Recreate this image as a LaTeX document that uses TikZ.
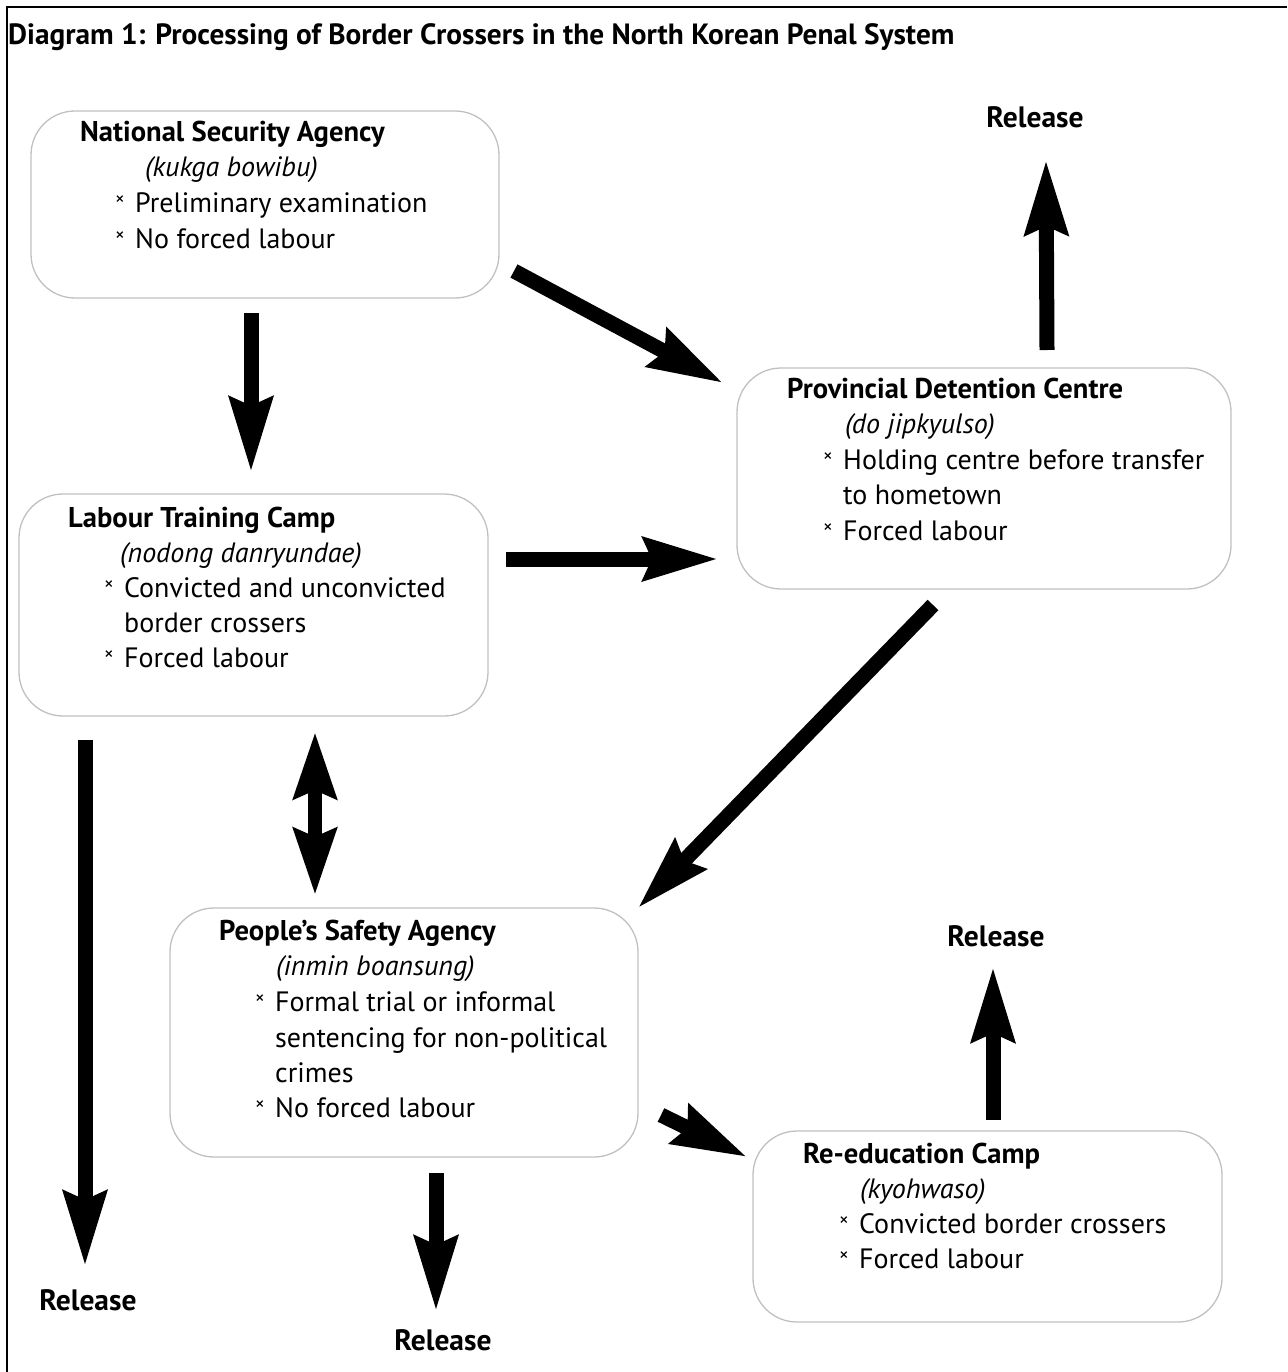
\documentclass[tikz,border=0pt]{standalone}
\usepackage{fontspec}
\setmainfont{PT Sans}
\usetikzlibrary{arrows.meta}
\definecolor{boxgray}{RGB}{192,192,192}
\newcommand\bul{\makebox[20pt][l]{\raisebox{7pt}{\fontsize{19}{19}\selectfont ×}}}
\begin{document}
\begin{tikzpicture}[x=1pt,y=-1pt,
  box/.style={draw=boxgray, line width=1.3pt, rounded corners=44pt, inner sep=0pt},
  txt/.style={anchor=base west, inner sep=0pt, font=\fontsize{28}{32}\selectfont},
  hd/.style={txt, font=\fontsize{28.6}{32}\selectfont\bfseries},
  it/.style={txt, font=\fontsize{28}{32}\selectfont\itshape},
  rel/.style={anchor=base, inner sep=0pt, font=\fontsize{29.5}{32}\selectfont\bfseries},
  blk/.style={line width=15pt, -{Stealth[length=74pt,width=42pt,inset=8pt]}},
  dbl/.style={line width=14pt, {Stealth[length=66pt,width=42pt,inset=8pt]}-{Stealth[length=66pt,width=42pt,inset=8pt]}}
]
\useasboundingbox (0,0) rectangle (1287,1372);
\draw[line width=2.2pt] (7,1372) -- (7,7) -- (1287,7);
\node[anchor=base west, inner sep=0pt, font=\fontsize{29.3}{32}\selectfont\bfseries] (title) at (8,45) {Diagram 1: Processing of Border Crossers in the North Korean Penal System};

% boxes
\node[box, minimum width=468pt, minimum height=187pt] (nsa) at (265,204.5) {};
\node[box, minimum width=469pt, minimum height=222pt] (ltc) at (253.5,605) {};
\node[box, minimum width=494pt, minimum height=221pt] (pdc) at (984,478.5) {};
\node[box, minimum width=468pt, minimum height=249pt] (psa) at (404,1032.5) {};
\node[box, minimum width=469pt, minimum height=191pt] (rec) at (987.5,1226.5) {};

% NSA text
\node[hd] (nsa1) at (80,142) {National Security Agency};
\node[it] (nsa2) at (145,177) {(kukga bowibu)};
\node[txt] (nsa3) at (115,213) {\bul Preliminary examination};
\node[txt] (nsa4) at (115,248) {\bul No forced labour};

% LTC text
\node[hd] (ltc1) at (68,527) {Labour Training Camp};
\node[it] (ltc2) at (120,562) {(nodong danryundae)};
\node[txt] (ltc3) at (104,597) {\bul Convicted and unconvicted};
\node[txt] (ltc4) at (124,632) {border crossers};
\node[txt] (ltc5) at (104,667) {\bul Forced labour};

% PDC text
\node[hd] (pdc1) at (787,398) {Provincial Detention Centre};
\node[it] (pdc2) at (845,433) {(do jipkyulso)};
\node[txt] (pdc3) at (823,469) {\bul Holding centre before transfer};
\node[txt] (pdc4) at (843,504) {to hometown};
\node[txt] (pdc5) at (823,540) {\bul Forced labour};

% PSA text
\node[hd] (psa1) at (219,940) {People’s Safety Agency};
\node[it] (psa2) at (276,975) {(inmin boansung)};
\node[txt] (psa3) at (255,1011) {\bul Formal trial or informal};
\node[txt] (psa4) at (275,1047) {sentencing for non-political};
\node[txt] (psa5) at (275,1082) {crimes};
\node[txt] (psa6) at (255,1117) {\bul No forced labour};

% REC text
\node[hd] (rec1) at (803,1163) {Re-education Camp};
\node[it] (rec2) at (860,1198) {(kyohwaso)};
\node[txt] (rec3) at (839,1233) {\bul Convicted border crossers};
\node[txt] (rec4) at (839,1268) {\bul Forced labour};

% Release labels
\node[rel] (r1) at (1035,128) {Release};
\node[rel] (r2) at (996,946) {Release};
\node[rel] (r3) at (88,1310) {Release};
\node[rel] (r4) at (443,1350) {Release};

% arrow end points
\coordinate (a1s) at (251,313); \coordinate (a1e) at (251,472);
\coordinate (a2s) at (514,271); \coordinate (a2e) at (723,383);
\coordinate (a3s) at (506,559); \coordinate (a3e) at (718,559);
\coordinate (a4s) at (1047,350); \coordinate (a4e) at (1046,160);
\coordinate (a5s) at (933,605); \coordinate (a5e) at (638,908);
\coordinate (a6s) at (315,732); \coordinate (a6e) at (315,895);
\coordinate (a7s) at (85,740); \coordinate (a7e) at (85,1266);
\coordinate (a8s) at (436,1173); \coordinate (a8e) at (436,1311);
\coordinate (a9s) at (661,1115); \coordinate (a9e) at (747,1157);
\coordinate (a10s) at (993,1120); \coordinate (a10e) at (993,967);

\draw[blk] (a1s) -- (a1e);
\draw[blk] (a2s) -- (a2e);
\draw[blk] (a3s) -- (a3e);
\draw[blk] (a4s) -- (a4e);
\draw[blk] (a5s) -- (a5e);
\draw[dbl] (a6s) -- (a6e);
\draw[blk] (a7s) -- (a7e);
\draw[blk] (a8s) -- (a8e);
\draw[blk] (a9s) -- (a9e);
\draw[blk] (a10s) -- (a10e);
\end{tikzpicture}
\end{document}
